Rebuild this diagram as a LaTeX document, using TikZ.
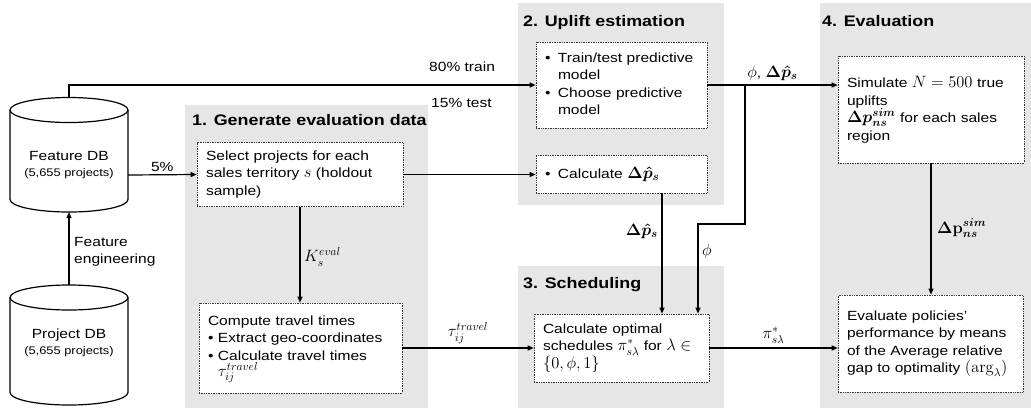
\RequirePackage{fix-cm}
\documentclass[tikz,border=0pt]{standalone}
\usepackage{amsmath,bm}
\usepackage[no-math]{fontspec}
\setmainfont{Liberation Sans}[FakeStretch=1.17]
\usetikzlibrary{arrows.meta}

\definecolor{panelgray}{RGB}{230,230,230}
\newcommand\bodyfont{\fontsize{13.3}{17.5}\selectfont}
\newcommand\titlefont{\fontsize{15.3}{18}\selectfont\bfseries}
\newcommand\bul{\textbullet}
% formulas are set a little larger than the surrounding text
\newcommand\mx[1]{{\fontsize{16.5}{17.5}\selectfont$#1$}}

\tikzset{
  lbl/.style={font=\bodyfont, inner sep=1pt},
  ttl/.style={font=\titlefont, anchor=base west, inner sep=0pt},
  stepbox/.style={draw=black!80, densely dotted, line width=0.7pt, fill=white,
    align=left, inner xsep=9pt, inner ysep=2pt, font=\bodyfont},
  conn/.style={line width=1.2pt, -{Triangle[length=6pt,width=5pt]}},
  dbline/.style={line width=1.2pt, draw=black, fill=white},
}

\begin{document}
\begin{tikzpicture}[x=1pt,y=-1pt]
\useasboundingbox (0,0) rectangle (1031,408);

% stage panels
\fill[panelgray] (185,105) rectangle (428,408);
\fill[panelgray] (518,3) rectangle (724,205);
\fill[panelgray] (518,266) rectangle (724,408);
\fill[panelgray] (820,3) rectangle (1031,408);

% stage titles
\node[ttl] (t1) at (192,125) {1. Generate evaluation data};
\node[ttl] (t2) at (523,26) {2. Uplift estimation};
\node[ttl] (t3) at (523,288) {3. Scheduling};
\node[ttl] (t4) at (822,26) {4. Evaluation};

% databases
\path[dbline] (10,110) -- (10,199.5)
  arc[start angle=180,end angle=360,x radius=59pt,y radius=12.5pt] -- (128,110);
\draw[line width=1.2pt, fill=white] (69,110) ellipse [x radius=59pt, y radius=12.5pt];
\node[lbl, align=center] (fdb) at (69,165)
  {Feature DB\\[-2pt]{\fontsize{11}{13}\selectfont (5,655 projects)}};
\coordinate (fdbtop) at (69,97.5);
\coordinate (fdbbot) at (69,212);
\coordinate (fdbright) at (128,175);

\path[dbline] (10,297.5) -- (10,392.5)
  arc[start angle=180,end angle=360,x radius=59pt,y radius=12.5pt] -- (128,297.5);
\draw[line width=1.2pt, fill=white] (69,297.5) ellipse [x radius=59pt, y radius=12.5pt];
\node[lbl, align=center] (pdb) at (69,343)
  {Project DB\\[-2pt]{\fontsize{11}{13}\selectfont (5,655 projects)}};
\coordinate (pdbtop) at (69,285);

% process boxes
\node[stepbox, minimum width=206, minimum height=64, text width=188pt] (select) at (300,174.5)
  {Select projects for each\\ sales territory \mx{s} (holdout\\ sample)};
\node[stepbox, minimum width=203, minimum height=90, text width=185pt] (compute) at (300.5,348)
  {\begin{tabular}{@{}p{10pt}@{}l@{}}
    \multicolumn{2}{@{}l@{}}{Compute travel times}\\
    \bul & Extract geo-coordinates\\
    \bul & Calculate travel times\\[-3pt]
         & \mx{\tau^{travel}_{ij}}
   \end{tabular}};
\node[stepbox, minimum width=171, minimum height=86, text width=153pt] (train) at (621.5,85)
  {\begin{tabular}{@{}p{13pt}@{}l@{}}
    \bul & Train/test predictive\\
         & model\\
    \bul & Choose predictive\\
         & model
   \end{tabular}};
\node[stepbox, minimum width=171, minimum height=38, text width=153pt] (calc) at (621.5,174.5)
  {\begin{tabular}{@{}p{13pt}@{}l@{}}
    \bul & Calculate \mx{\boldsymbol{\Delta\hat{p}_s}}
   \end{tabular}};
\node[stepbox, minimum width=175, minimum height=68, text width=157pt] (sched) at (621.5,348)
  {Calculate optimal\\ schedules \mx{\pi^*_{s\lambda}} for \mx{\lambda\in}\\ \mx{\{0,\phi,1\}}};
\node[stepbox, minimum width=186, minimum height=107, text width=168pt] (sim) at (931,109.5)
  {Simulate \mx{N=500} true\\ uplifts\\ \mx{\boldsymbol{\Delta p^{sim}_{ns}}} for each sales\\ region};
\node[stepbox, minimum width=185, minimum height=97, text width=167pt] (eval) at (930.5,343.5)
  {Evaluate policies'\\ performance by means\\ of the Average relative\\ gap to optimality \mx{(\mathrm{arg}_\lambda)}};

% connectors
\draw[conn] (fdbtop) |- (train.west);
\node[lbl, anchor=west] (ltrain) at (428,67) {80\% train};
\node[lbl, anchor=west] (ltest) at (430,103) {15\% test};

\draw[conn] (fdbright) -- (select.west)
  node[lbl, midway, above=2pt] (lfive) {5\%};

\draw[conn] (pdbtop) -- (fdbbot);
\node[lbl, anchor=west, align=left] (lfeat) at (73,252) {Feature\\ engineering};

\draw[conn] (select.east) -- (calc.west);

\draw[conn] (select.south) -- (select.south |- compute.north);
\node[lbl, anchor=west] (lk) at (303,257) {\mx{K_s^{eval}}};

\draw[conn] (compute.east) -- (sched.west)
  node[lbl, midway, above=3pt] (ltau) {\mx{\tau^{travel}_{ij}}};

\coordinate (dpa) at (662,193);
\draw[conn] (dpa) -- (dpa |- sched.north);
\node[lbl, anchor=east] (ldp) at (659,231) {\mx{\boldsymbol{\Delta\hat{p}_s}}};

\coordinate (split) at (745,85);
\coordinate (bend) at (745,224);
\coordinate (phidown) at (698,224);
\draw[conn] (split) -- (bend) -- (phidown) -- (phidown |- sched.north);
\node[lbl, anchor=west] (lphi) at (701,251) {\mx{\phi}};

\draw[conn] (train.east) -- (train.east -| sim.west)
  node[lbl, midway, above=3pt] (lphidp) {\mx{\phi}, \mx{\boldsymbol{\Delta\hat{p}_s}}};

\draw[conn] (sched.east) -- (sched.east -| eval.west)
  node[lbl, midway, above=3pt] (lpi) {\mx{\pi^*_{s\lambda}}};

\draw[conn] (sim.south) -- (sim.south |- eval.north);
\node[lbl, anchor=west] (lsim) at (936,228)
  {\mx{\mathbf{\Delta p}^{\boldsymbol{sim}}_{\boldsymbol{ns}}}};
\end{tikzpicture}
\end{document}
